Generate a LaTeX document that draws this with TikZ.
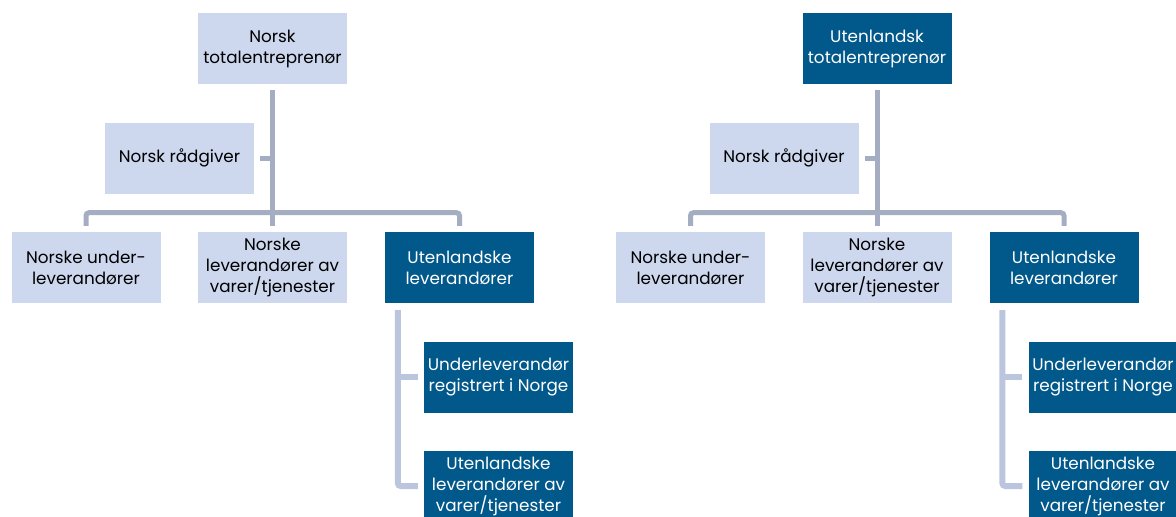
\documentclass[tikz,border=0pt]{standalone}
\usepackage{fontspec}
\setmainfont{Poppins}
\usetikzlibrary{calc}
\definecolor{lightbox}{HTML}{CDD7EE}
\definecolor{darkbox}{HTML}{00588B}
\definecolor{conn}{HTML}{A5ADC3}
\definecolor{conntwo}{HTML}{BBC5DD}
\newcommand\orgchart[5]{%
  % #1 prefix, #2 x offset, #3 top style, #4 top text
  \node[#3] (#1T) at (272.5+#2,48.5) {#4};
  \node[lightbox node] (#1R) at (179.5+#2,158) {Norsk rådgiver};
  \node[lightbox node] (#1A) at (86+#2,267.5) {Norske under-\\leverandører};
  \node[lightbox node] (#1B) at (272.5+#2,267.5) {Norske\\leverandører av\\varer/tjenester};
  \node[darkbox node] (#1C) at (459.5+#2,267.5) {Utenlandske\\leverandører};
  \node[darkbox node] (#1D) at (498.5+#2,377) {Underleverandør\\registrert i Norge};
  \node[darkbox node] (#1E) at (498.5+#2,486) {Utenlandske\\leverandører av\\varer/tjenester};
  \coordinate (#1bar) at ($(#1T.south)+(0,128.5)$);
  \draw[link] ($(#1T.south)+(0,6)$) -- (#1bar) -- ($(#1B.north)+(0,-6)$);
  \draw[link,rounded corners=3pt] ($(#1A.north)+(0,-6)$) -- (#1A.north |- #1bar) -- (#1C.north |- #1bar) -- ($(#1C.north)+(0,-6)$);
  \draw[link] ($(#1R.east)+(6,0)$) -- (#1T.south |- #1R.east);
  \coordinate (#1v) at ($(#1C.south west)+(13,7)$);
  \draw[linktwo,rounded corners=3pt] (#1v) -- (#1v |- #1E.west) -- ($(#1E.west)+(-6,0)$);
  \draw[linktwo] (#1v |- #1D.west) -- ($(#1D.west)+(-6,0)$);
}
\begin{document}
\begin{tikzpicture}[x=1pt,y=-1pt,
  box/.style={rectangle, minimum width=149pt, minimum height=71pt, inner sep=0pt, align=center, font=\fontsize{16.8}{21}\selectfont},
  lightbox node/.style={box, fill=lightbox, text=black},
  darkbox node/.style={box, fill=darkbox, text=white},
  link/.style={draw=conn, line width=5pt},
  linktwo/.style={draw=conntwo, line width=6pt}]
\useasboundingbox (0,0) rectangle (1176,517);
\orgchart{L}{0}{lightbox node}{Norsk\\totalentreprenør}{}
\orgchart{R}{604.5}{darkbox node}{Utenlandsk\\totalentreprenør}{}
\end{tikzpicture}
\end{document}
